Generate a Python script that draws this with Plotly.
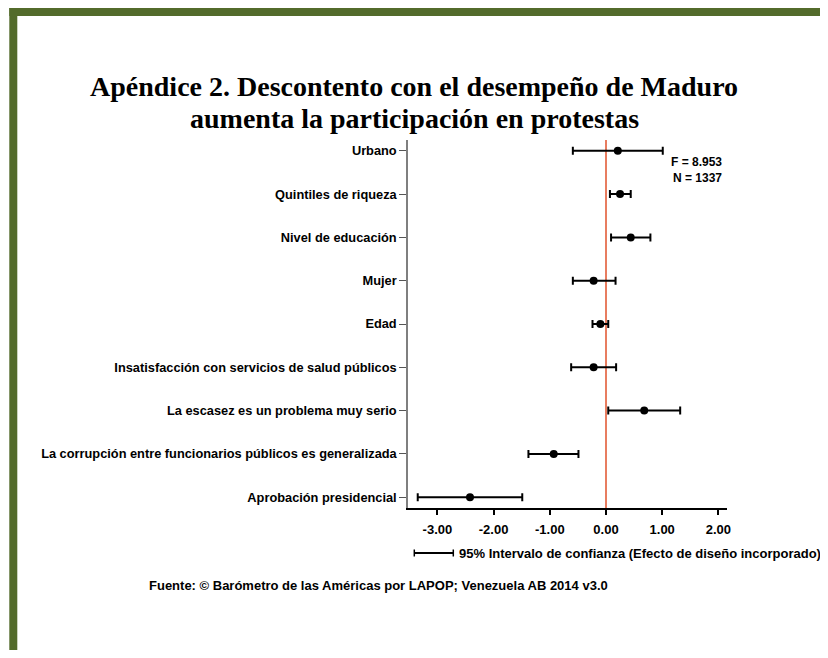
import plotly.graph_objects as go

# ---- data ----
categories = [
    "Urbano",
    "Quintiles de riqueza",
    "Nivel de educación",
    "Mujer",
    "Edad",
    "Insatisfacción con servicios de salud públicos",
    "La escasez es un problema muy serio",
    "La corrupción entre funcionarios públicos es generalizada",
    "Aprobación presidencial",
]
coef = [0.21, 0.25, 0.44, -0.22, -0.10, -0.22, 0.68, -0.93, -2.42]
ci_low = [-0.59, 0.07, 0.09, -0.59, -0.24, -0.62, 0.04, -1.38, -3.35]
ci_high = [1.01, 0.44, 0.79, 0.17, 0.04, 0.18, 1.32, -0.49, -1.49]
x_ticks = [-3, -2, -1, 0, 1, 2]
f_stat = "8.953"
n_obs = "1337"

# ---- geometry helpers (page pixel coordinates; page body has an 8px margin) ----
OFF = 8
W, H = 828 - OFF, 658 - 2 * OFF
L, R, T, B = 407.7, 726.7, 140, 508
PW, PH = R - L, B - T
X0_PX, PX_PER_UNIT = 605.7, 56.2


def px(xp):
    return (xp - L) / PW


def py(yp):
    return (B - yp) / PH


n = len(categories)
ypos = list(range(n - 1, -1, -1))
err_plus = [h - c for h, c in zip(ci_high, coef)]
err_minus = [c - l for c, l in zip(coef, ci_low)]

SANS = "Liberation Sans, Arial, sans-serif"
SERIF = "Liberation Serif, Times New Roman, serif"

fig = go.Figure()
fig.add_trace(go.Scatter(
    x=coef, y=ypos, mode="markers",
    marker=dict(color="black", size=8),
    error_x=dict(type="data", symmetric=False, array=err_plus, arrayminus=err_minus,
                 color="black", thickness=2, width=4),
    showlegend=False, hoverinfo="skip",
))

green = "#536B2B"
shapes = [
    # zero line
    dict(type="line", xref="x", yref="paper", x0=0, x1=0, y0=0, y1=1,
         line=dict(color="#E0522B", width=1.5), layer="below"),
    # frame
    dict(type="rect", xref="paper", yref="paper", x0=px(9), x1=px(17), y0=py(660), y1=py(8),
         fillcolor=green, line=dict(width=0)),
    dict(type="rect", xref="paper", yref="paper", x0=px(9), x1=px(830), y0=py(16), y1=py(8),
         fillcolor=green, line=dict(width=0)),
    # legend CI symbol
    dict(type="line", xref="paper", yref="paper", x0=px(414), x1=px(453), y0=py(553), y1=py(553),
         line=dict(color="black", width=2)),
    dict(type="line", xref="paper", yref="paper", x0=px(414), x1=px(414), y0=py(549.5), y1=py(556.5),
         line=dict(color="black", width=1.5)),
    dict(type="line", xref="paper", yref="paper", x0=px(453), x1=px(453), y0=py(549.5), y1=py(556.5),
         line=dict(color="black", width=1.5)),
]

annotations = [
    dict(text="<b>Apéndice 2. Descontento con el desempeño de Maduro</b>",
         xref="paper", yref="paper", x=px(414), y=py(87), xanchor="center", yanchor="middle",
         showarrow=False, font=dict(family=SERIF, size=28, color="black")),
    dict(text="<b>aumenta la participación en protestas</b>",
         xref="paper", yref="paper", x=px(414), y=py(119), xanchor="center", yanchor="middle",
         showarrow=False, font=dict(family=SERIF, size=28, color="black")),
    dict(text=f"<b>F = {f_stat}<br>N = {n_obs}</b>",
         xref="paper", yref="paper", x=px(724), y=py(170), xanchor="right", yanchor="middle",
         align="right", showarrow=False, font=dict(family=SANS, size=12, color="black")),
    dict(text="<b>95% Intervalo de confianza (Efecto de diseño incorporado)</b>",
         xref="paper", yref="paper", x=px(457), y=py(553), xanchor="left", yanchor="middle",
         showarrow=False, font=dict(family=SANS, size=13, color="black")),
    dict(text="<b>Fuente: © Barómetro de las Américas por LAPOP; Venezuela AB 2014 v3.0</b>",
         xref="paper", yref="paper", x=px(147), y=py(585), xanchor="left", yanchor="middle",
         showarrow=False, font=dict(family=SANS, size=13, color="black")),
]

fig.update_layout(
    width=W, height=H, autosize=False,
    margin=dict(l=L - OFF, r=828 - R, t=T - OFF, b=(658 - OFF) - B, pad=0),
    paper_bgcolor="white", plot_bgcolor="white",
    shapes=shapes, annotations=annotations,
    xaxis=dict(range=[(L - X0_PX) / PX_PER_UNIT, (R - X0_PX) / PX_PER_UNIT],
               tickvals=x_ticks, ticktext=[f"<b>{v:.2f}</b>" for v in x_ticks],
               showgrid=False, zeroline=False, showline=True, linecolor="black", linewidth=1.5,
               ticks="outside", ticklen=5, tickwidth=1.5, tickcolor="black",
               tickfont=dict(family=SANS, size=13, color="black"), ticklabelstandoff=4),
    yaxis=dict(range=[-0.25, n - 1 + 0.25],
               tickvals=ypos, ticktext=[f"<b>{c}</b>" for c in categories],
               showgrid=False, zeroline=False, showline=True, linecolor="#7f7f7f", linewidth=1.5,
               ticks="outside", ticklen=7, tickwidth=1.2, tickcolor="#555555",
               tickfont=dict(family=SANS, size=12.8, color="black")),
)

fig.write_html("out.html")
